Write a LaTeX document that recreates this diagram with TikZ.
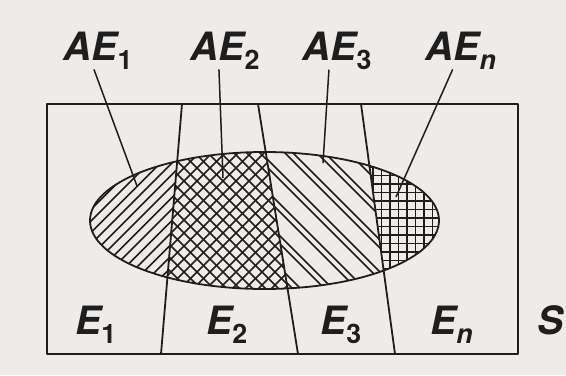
\documentclass[tikz,border=0pt]{standalone}
\usepackage{fontspec}
\setmainfont{TeX Gyre Heros}
\definecolor{paper}{HTML}{EEEBE8}
\definecolor{ink}{HTML}{1E1E1E}
\newcommand{\lowsub}[1]{\raisebox{-4.5pt}{\fontsize{13.4}{14}\selectfont #1}}

\begin{document}
\begin{tikzpicture}[
  x=0.5pt, y=-0.5pt,
  line join=round,
  lab/.style={anchor=base west, inner sep=0pt, text=ink, font=\fontsize{19.5}{22}\selectfont\bfseries\itshape},
  frame/.style={draw=ink, line width=0.9pt},
  hatch/.style={draw=ink, line width=0.8pt},
  lead/.style={draw=ink, line width=0.75pt}
]
\fill[paper] (0,0) rectangle (566,375);
\useasboundingbox (0,0) rectangle (566,375);

% partition end points and ellipse centre
\coordinate (c) at (264.5,220.5);
\coordinate (t1) at (182,104); \coordinate (b1) at (161,354);
\coordinate (t2) at (258,104); \coordinate (b2) at (298,354);
\coordinate (t3) at (361,104); \coordinate (b3) at (395,354);

% hatching of the four pieces of A
\begin{scope}
  \clip (c) ellipse [x radius=87.25pt, y radius=34.25pt];
  \begin{scope}
    \clip (0,0) -- (t1) -- (b1) -- (0,375) -- cycle;
    \foreach \k in {220,231.5,...,490} \draw[hatch] (\k,0) -- ++(-400,400);
  \end{scope}
  \begin{scope}
    \clip (t1) -- (t2) -- (b2) -- (b1) -- cycle;
    \foreach \k in {300,313,...,600} \draw[hatch] (\k,0) -- ++(-400,400);
    \foreach \k in {-140,-127,...,160} \draw[hatch] (\k,0) -- ++(400,400);
  \end{scope}
  \begin{scope}
    \clip (t2) -- (t3) -- (b3) -- (b2) -- cycle;
    \foreach \k in {-60,-28,...,260} {
      \draw[hatch] (\k,0) -- ++(400,400);
      \draw[hatch] (\k+8,0) -- ++(400,400);
    }
  \end{scope}
  \begin{scope}
    \clip (t3) -- (566,0) -- (566,375) -- (b3) -- cycle;
    \foreach \k in {356,364.5,...,444} \draw[hatch] (\k,140) -- (\k,300);
    \foreach \k in {150,158.5,...,294} \draw[hatch] (350,\k) -- (450,\k);
  \end{scope}
\end{scope}

% sample space, event A and the partition
\draw[frame] (47,104) rectangle (518,354);
\draw[frame] (c) ellipse [x radius=87.25pt, y radius=34.25pt];
\draw[frame] (t1) -- (b1);
\draw[frame] (t2) -- (b2);
\draw[frame] (t3) -- (b3);

% labels
\node[lab] (ae1) at (63,60) {AE\lowsub{\upshape 1}};
\node[lab] (ae2) at (190,60) {AE\lowsub{\upshape 2}};
\node[lab] (ae3) at (302,60) {AE\lowsub{\upshape 3}};
\node[lab] (aen) at (425,60) {AE\lowsub{n}};
\node[lab] (e1) at (75,334) {E\lowsub{\upshape 1}};
\node[lab] (e2) at (206,334) {E\lowsub{\upshape 2}};
\node[lab] (e3) at (320,334) {E\lowsub{\upshape 3}};
\node[lab] (en) at (430,334) {E\lowsub{n}};
\node[lab] (s) at (537,334) {S};

% leader lines
\coordinate (p1) at (137,186);
\coordinate (p2) at (223,178);
\coordinate (p3) at (323,163);
\coordinate (pn) at (396,197);
\draw[lead] ([xshift=-2pt]ae1.south) -- (p1);
\draw[lead] ([xshift=-3pt]ae2.south) -- (p2);
\draw[lead] ([xshift=-4pt]ae3.south) -- (p3);
\draw[lead] ([xshift=-4pt]aen.south) -- (pn);
\end{tikzpicture}
\end{document}
